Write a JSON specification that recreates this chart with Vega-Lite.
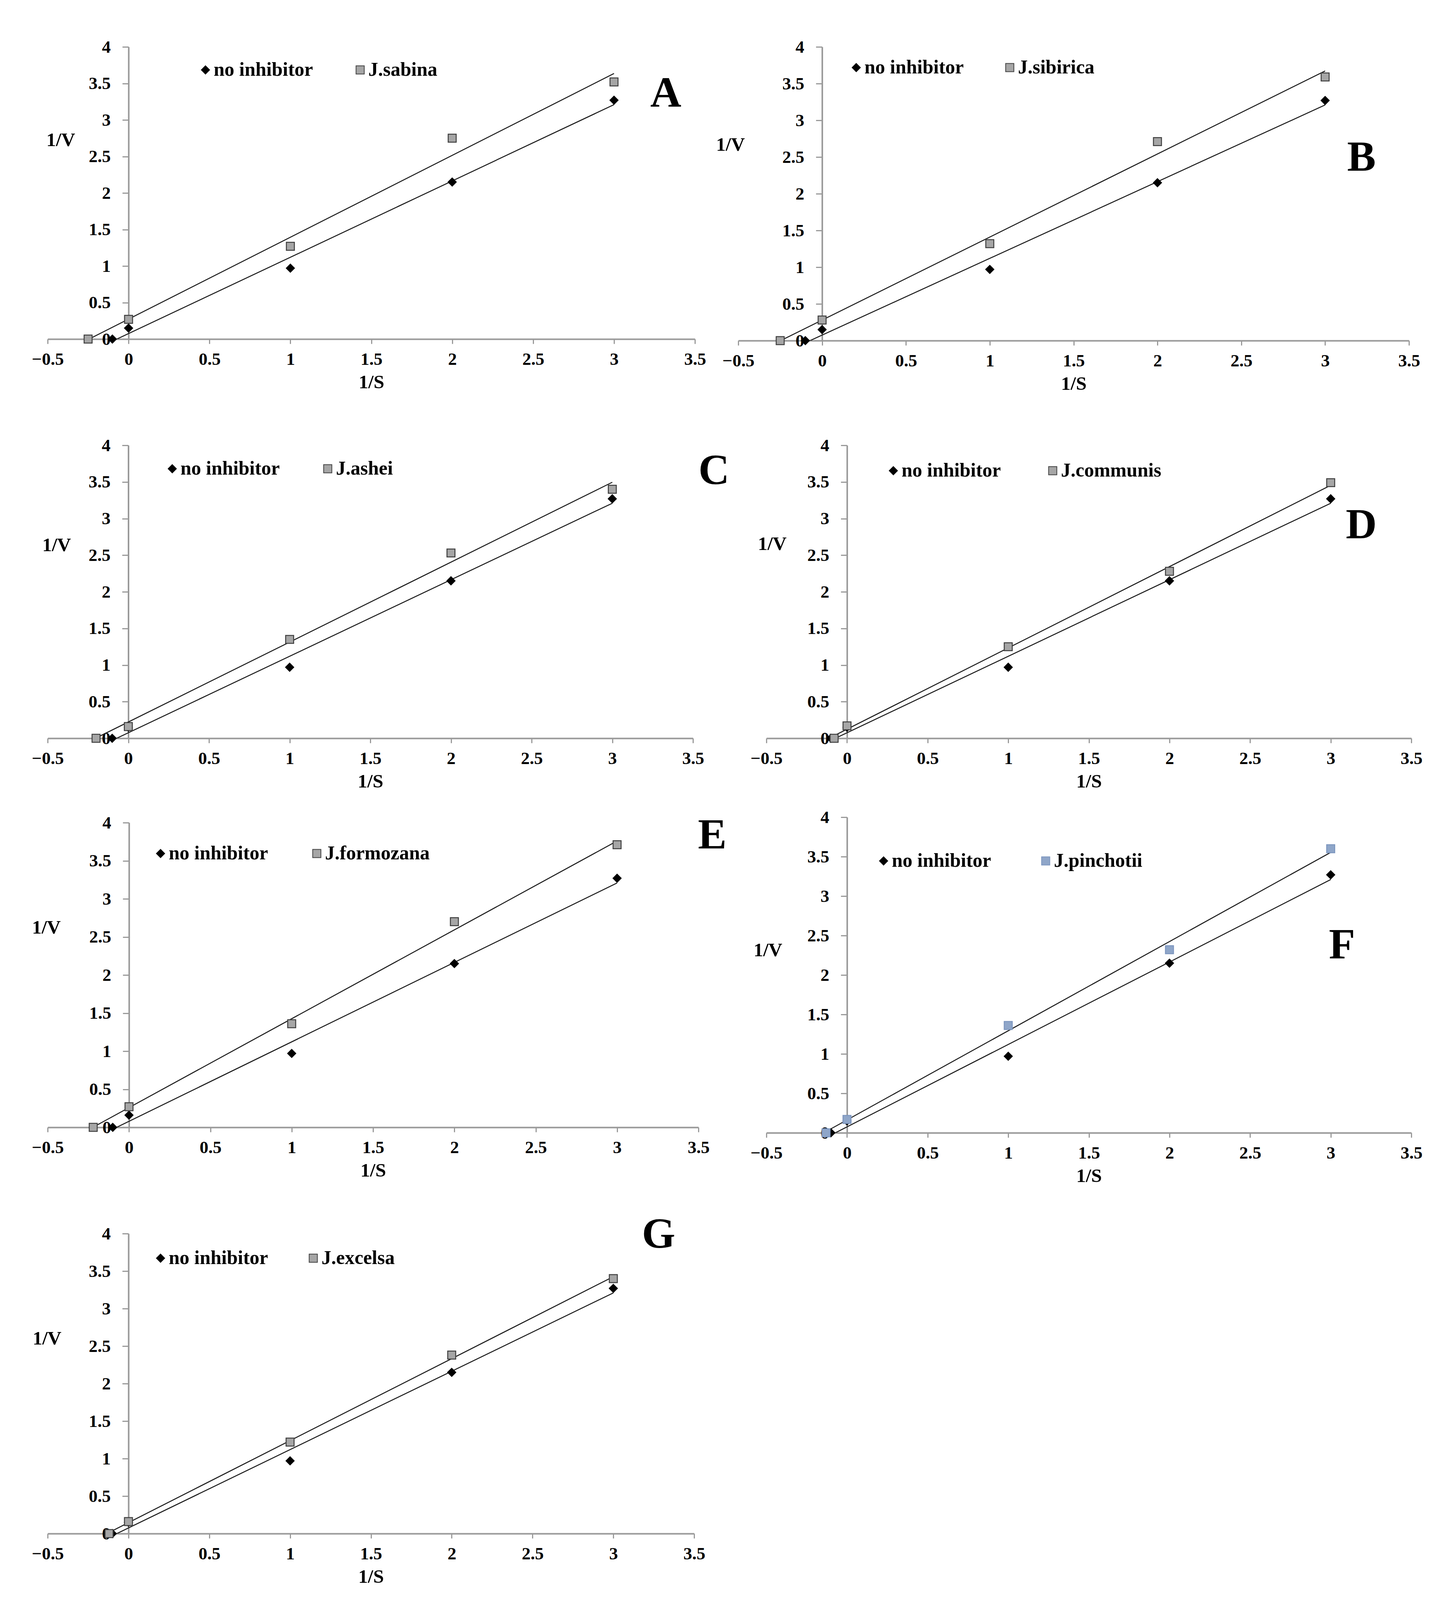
{
  "$schema": "https://vega.github.io/schema/vega-lite/v6.json",
  "background": "white",
  "autosize": {"type": "pad", "resize": true},
  "padding": {"left": 81, "top": 98, "right": 10, "bottom": 10},
  "config": {
    "font": "Liberation Serif",
    "view": {"stroke": null},
    "axis": {"grid": false, "domainColor": "#9a9a9a", "domainWidth": 4, "tickColor": "#9a9a9a", "tickWidth": 3, "labelFont": "Liberation Serif", "labelFontSize": 45, "labelFontWeight": "bold", "labelColor": "#000000", "titleFont": "Liberation Serif", "titleFontSize": 49, "titleFontWeight": "bold", "titleColor": "#000000", "labelFlush": false, "labelOverlap": false},
    "axisX": {"tickSize": 12, "labelPadding": 17, "titleY": 110, "titleBaseline": "middle"},
    "axisY": {"tickSize": 16, "labelPadding": 30, "titleAngle": 0, "titleAlign": "center", "titleBaseline": "middle"},
    "legend": {"labelFont": "Liberation Serif", "labelFontSize": 50, "labelFontWeight": "bold", "labelColor": "#000000", "labelLimit": 0, "labelOffset": -4, "padding": 0, "symbolSize": 440, "symbolOpacity": 1, "symbolStrokeWidth": 2, "orient": "none", "direction": "horizontal"}
  },
  "datasets": {
    "kin": [
      {"panel": "A", "series": "no inhibitor", "x": -0.1, "y": 0},
      {"panel": "A", "series": "no inhibitor", "x": 0, "y": 0.15},
      {"panel": "A", "series": "no inhibitor", "x": 1, "y": 0.97},
      {"panel": "A", "series": "no inhibitor", "x": 2, "y": 2.15},
      {"panel": "A", "series": "no inhibitor", "x": 3, "y": 3.27},
      {"panel": "A", "series": "J.sabina", "x": -0.25, "y": 0},
      {"panel": "A", "series": "J.sabina", "x": 0, "y": 0.27},
      {"panel": "A", "series": "J.sabina", "x": 1, "y": 1.27},
      {"panel": "A", "series": "J.sabina", "x": 2, "y": 2.75},
      {"panel": "A", "series": "J.sabina", "x": 3, "y": 3.52},
      {"panel": "B", "series": "no inhibitor", "x": -0.1, "y": 0},
      {"panel": "B", "series": "no inhibitor", "x": 0, "y": 0.15},
      {"panel": "B", "series": "no inhibitor", "x": 1, "y": 0.97},
      {"panel": "B", "series": "no inhibitor", "x": 2, "y": 2.15},
      {"panel": "B", "series": "no inhibitor", "x": 3, "y": 3.27},
      {"panel": "B", "series": "J.sibirica", "x": -0.25, "y": 0},
      {"panel": "B", "series": "J.sibirica", "x": 0, "y": 0.28},
      {"panel": "B", "series": "J.sibirica", "x": 1, "y": 1.32},
      {"panel": "B", "series": "J.sibirica", "x": 2, "y": 2.71},
      {"panel": "B", "series": "J.sibirica", "x": 3, "y": 3.59},
      {"panel": "C", "series": "no inhibitor", "x": -0.1, "y": 0},
      {"panel": "C", "series": "no inhibitor", "x": 0, "y": 0.15},
      {"panel": "C", "series": "no inhibitor", "x": 1, "y": 0.97},
      {"panel": "C", "series": "no inhibitor", "x": 2, "y": 2.15},
      {"panel": "C", "series": "no inhibitor", "x": 3, "y": 3.27},
      {"panel": "C", "series": "J.ashei", "x": -0.2, "y": 0},
      {"panel": "C", "series": "J.ashei", "x": 0, "y": 0.16},
      {"panel": "C", "series": "J.ashei", "x": 1, "y": 1.35},
      {"panel": "C", "series": "J.ashei", "x": 2, "y": 2.53},
      {"panel": "C", "series": "J.ashei", "x": 3, "y": 3.4},
      {"panel": "D", "series": "no inhibitor", "x": -0.1, "y": 0},
      {"panel": "D", "series": "no inhibitor", "x": 0, "y": 0.15},
      {"panel": "D", "series": "no inhibitor", "x": 1, "y": 0.97},
      {"panel": "D", "series": "no inhibitor", "x": 2, "y": 2.15},
      {"panel": "D", "series": "no inhibitor", "x": 3, "y": 3.27},
      {"panel": "D", "series": "J.communis", "x": -0.08, "y": 0},
      {"panel": "D", "series": "J.communis", "x": 0, "y": 0.17},
      {"panel": "D", "series": "J.communis", "x": 1, "y": 1.25},
      {"panel": "D", "series": "J.communis", "x": 2, "y": 2.28},
      {"panel": "D", "series": "J.communis", "x": 3, "y": 3.49},
      {"panel": "E", "series": "no inhibitor", "x": -0.1, "y": 0},
      {"panel": "E", "series": "no inhibitor", "x": 0, "y": 0.16},
      {"panel": "E", "series": "no inhibitor", "x": 1, "y": 0.97},
      {"panel": "E", "series": "no inhibitor", "x": 2, "y": 2.15},
      {"panel": "E", "series": "no inhibitor", "x": 3, "y": 3.27},
      {"panel": "E", "series": "J.formozana", "x": -0.22, "y": 0},
      {"panel": "E", "series": "J.formozana", "x": 0, "y": 0.27},
      {"panel": "E", "series": "J.formozana", "x": 1, "y": 1.36},
      {"panel": "E", "series": "J.formozana", "x": 2, "y": 2.7},
      {"panel": "E", "series": "J.formozana", "x": 3, "y": 3.71},
      {"panel": "F", "series": "no inhibitor", "x": -0.1, "y": 0},
      {"panel": "F", "series": "no inhibitor", "x": 0, "y": 0.15},
      {"panel": "F", "series": "no inhibitor", "x": 1, "y": 0.97},
      {"panel": "F", "series": "no inhibitor", "x": 2, "y": 2.15},
      {"panel": "F", "series": "no inhibitor", "x": 3, "y": 3.27},
      {"panel": "F", "series": "J.pinchotii", "x": -0.13, "y": 0},
      {"panel": "F", "series": "J.pinchotii", "x": 0, "y": 0.17},
      {"panel": "F", "series": "J.pinchotii", "x": 1, "y": 1.36},
      {"panel": "F", "series": "J.pinchotii", "x": 2, "y": 2.32},
      {"panel": "F", "series": "J.pinchotii", "x": 3, "y": 3.6},
      {"panel": "G", "series": "no inhibitor", "x": -0.1, "y": 0},
      {"panel": "G", "series": "no inhibitor", "x": 0, "y": 0.15},
      {"panel": "G", "series": "no inhibitor", "x": 1, "y": 0.97},
      {"panel": "G", "series": "no inhibitor", "x": 2, "y": 2.15},
      {"panel": "G", "series": "no inhibitor", "x": 3, "y": 3.27},
      {"panel": "G", "series": "J.excelsa", "x": -0.12, "y": 0},
      {"panel": "G", "series": "J.excelsa", "x": 0, "y": 0.16},
      {"panel": "G", "series": "J.excelsa", "x": 1, "y": 1.22},
      {"panel": "G", "series": "J.excelsa", "x": 2, "y": 2.38},
      {"panel": "G", "series": "J.excelsa", "x": 3, "y": 3.4}
    ]
  },
  "resolve": {"scale": {"color": "independent", "shape": "independent", "stroke": "independent"}, "legend": {"color": "independent", "shape": "independent"}},
  "spacing": 71,
  "vconcat": [
    {
      "resolve": {"scale": {"color": "independent", "shape": "independent", "stroke": "independent"}, "legend": {"color": "independent", "shape": "independent"}},
      "spacing": 45,
      "vconcat": [
        {
          "resolve": {"scale": {"color": "independent", "shape": "independent", "stroke": "independent"}, "legend": {"color": "independent", "shape": "independent"}},
          "spacing": 111,
          "vconcat": [
            {
              "bounds": "flush",
              "spacing": 111,
              "resolve": {"scale": {"color": "independent", "shape": "independent", "stroke": "independent"}, "legend": {"color": "independent", "shape": "independent"}},
              "hconcat": [
                {
                  "width": 1657, "height": 748,
                  "layer": [
                    {"data": {"name": "kin"}, "transform": [{"filter": "datum.panel === 'A'"}, {"regression": "y", "on": "x", "groupby": ["series"]}],
                     "mark": {"type": "line", "color": "#1a1a1a", "strokeWidth": 2.5, "clip": true},
                     "encoding": {
                       "x": {"field": "x", "type": "quantitative", "scale": {"domain": [-0.5, 3.5], "nice": false, "zero": false}, "axis": {"values": [-0.5, 0, 0.5, 1, 1.5, 2, 2.5, 3, 3.5], "format": "~g", "title": "1/S"}},
                       "y": {"field": "y", "type": "quantitative", "scale": {"domain": [0, 4], "nice": false, "zero": false}, "axis": {"values": [0, 0.5, 1, 1.5, 2, 2.5, 3, 3.5, 4], "format": "~g", "title": "1/V", "offset": -207.1, "titleX": -174, "titleY": 238}},
                       "detail": {"field": "series"}}},
                    {"data": {"name": "kin"}, "transform": [{"filter": "datum.panel === 'A'"}],
                     "mark": {"type": "point", "filled": true, "size": 420, "strokeWidth": 2.5, "opacity": 1},
                     "encoding": {
                       "x": {"field": "x", "type": "quantitative"},
                       "y": {"field": "y", "type": "quantitative"},
                       "shape": {"field": "series", "type": "nominal", "scale": {"domain": ["no inhibitor", "J.sabina"], "range": ["diamond", "square"]}},
                       "color": {"field": "series", "type": "nominal", "scale": {"domain": ["no inhibitor", "J.sabina"], "range": ["#000000", "#a6a6a6"]}, "legend": {"title": null, "legendX": 379, "legendY": 34, "columnPadding": 95, "symbolStrokeColor": "#404040"}},
                       "stroke": {"field": "series", "type": "nominal", "scale": {"domain": ["no inhibitor", "J.sabina"], "range": ["#000000", "#404040"]}, "legend": null}}},
                    {"data": {"values": [{}]},
                     "mark": {"type": "text", "text": "A", "fontSize": 110, "fontWeight": "bold", "font": "Liberation Serif", "align": "center", "baseline": "alphabetic", "color": "#000000"},
                     "encoding": {"x": {"datum": 3.32}, "y": {"datum": 3.18}}}
                  ]
                },
                {
                  "width": 1717, "height": 752,
                  "layer": [
                    {"data": {"name": "kin"}, "transform": [{"filter": "datum.panel === 'B'"}, {"regression": "y", "on": "x", "groupby": ["series"]}],
                     "mark": {"type": "line", "color": "#1a1a1a", "strokeWidth": 2.5, "clip": true},
                     "encoding": {
                       "x": {"field": "x", "type": "quantitative", "scale": {"domain": [-0.5, 3.5], "nice": false, "zero": false}, "axis": {"values": [-0.5, 0, 0.5, 1, 1.5, 2, 2.5, 3, 3.5], "format": "~g", "title": "1/S"}},
                       "y": {"field": "y", "type": "quantitative", "scale": {"domain": [0, 4], "nice": false, "zero": false}, "axis": {"values": [0, 0.5, 1, 1.5, 2, 2.5, 3, 3.5, 4], "format": "~g", "title": "1/V", "offset": -214.6, "titleX": -235, "titleY": 250}},
                       "detail": {"field": "series"}}},
                    {"data": {"name": "kin"}, "transform": [{"filter": "datum.panel === 'B'"}],
                     "mark": {"type": "point", "filled": true, "size": 420, "strokeWidth": 2.5, "opacity": 1},
                     "encoding": {
                       "x": {"field": "x", "type": "quantitative"},
                       "y": {"field": "y", "type": "quantitative"},
                       "shape": {"field": "series", "type": "nominal", "scale": {"domain": ["no inhibitor", "J.sibirica"], "range": ["diamond", "square"]}},
                       "color": {"field": "series", "type": "nominal", "scale": {"domain": ["no inhibitor", "J.sibirica"], "range": ["#000000", "#a6a6a6"]}, "legend": {"title": null, "legendX": 277, "legendY": 28, "columnPadding": 92, "symbolStrokeColor": "#404040"}},
                       "stroke": {"field": "series", "type": "nominal", "scale": {"domain": ["no inhibitor", "J.sibirica"], "range": ["#000000", "#404040"]}, "legend": null}}},
                    {"data": {"values": [{}]},
                     "mark": {"type": "text", "text": "B", "fontSize": 110, "fontWeight": "bold", "font": "Liberation Serif", "align": "center", "baseline": "alphabetic", "color": "#000000"},
                     "encoding": {"x": {"datum": 3.217}, "y": {"datum": 2.315}}}
                  ]
                }
              ]
            },
            {
              "bounds": "flush",
              "spacing": 188,
              "resolve": {"scale": {"color": "independent", "shape": "independent", "stroke": "independent"}, "legend": {"color": "independent", "shape": "independent"}},
              "hconcat": [
                {
                  "width": 1652, "height": 750,
                  "layer": [
                    {"data": {"name": "kin"}, "transform": [{"filter": "datum.panel === 'C'"}, {"regression": "y", "on": "x", "groupby": ["series"]}],
                     "mark": {"type": "line", "color": "#1a1a1a", "strokeWidth": 2.5, "clip": true},
                     "encoding": {
                       "x": {"field": "x", "type": "quantitative", "scale": {"domain": [-0.5, 3.5], "nice": false, "zero": false}, "axis": {"values": [-0.5, 0, 0.5, 1, 1.5, 2, 2.5, 3, 3.5], "format": "~g", "title": "1/S"}},
                       "y": {"field": "y", "type": "quantitative", "scale": {"domain": [0, 4], "nice": false, "zero": false}, "axis": {"values": [0, 0.5, 1, 1.5, 2, 2.5, 3, 3.5, 4], "format": "~g", "title": "1/V", "offset": -206.5, "titleX": -184, "titleY": 255}},
                       "detail": {"field": "series"}}},
                    {"data": {"name": "kin"}, "transform": [{"filter": "datum.panel === 'C'"}],
                     "mark": {"type": "point", "filled": true, "size": 420, "strokeWidth": 2.5, "opacity": 1},
                     "encoding": {
                       "x": {"field": "x", "type": "quantitative"},
                       "y": {"field": "y", "type": "quantitative"},
                       "shape": {"field": "series", "type": "nominal", "scale": {"domain": ["no inhibitor", "J.ashei"], "range": ["diamond", "square"]}},
                       "color": {"field": "series", "type": "nominal", "scale": {"domain": ["no inhibitor", "J.ashei"], "range": ["#000000", "#a6a6a6"]}, "legend": {"title": null, "legendX": 294, "legendY": 35, "columnPadding": 97, "symbolStrokeColor": "#404040"}},
                       "stroke": {"field": "series", "type": "nominal", "scale": {"domain": ["no inhibitor", "J.ashei"], "range": ["#000000", "#404040"]}, "legend": null}}},
                    {"data": {"values": [{}]},
                     "mark": {"type": "text", "text": "C", "fontSize": 110, "fontWeight": "bold", "font": "Liberation Serif", "align": "center", "baseline": "alphabetic", "color": "#000000"},
                     "encoding": {"x": {"datum": 3.63}, "y": {"datum": 3.47}}}
                  ]
                },
                {
                  "width": 1651, "height": 750,
                  "layer": [
                    {"data": {"name": "kin"}, "transform": [{"filter": "datum.panel === 'D'"}, {"regression": "y", "on": "x", "groupby": ["series"]}],
                     "mark": {"type": "line", "color": "#1a1a1a", "strokeWidth": 2.5, "clip": true},
                     "encoding": {
                       "x": {"field": "x", "type": "quantitative", "scale": {"domain": [-0.5, 3.5], "nice": false, "zero": false}, "axis": {"values": [-0.5, 0, 0.5, 1, 1.5, 2, 2.5, 3, 3.5], "format": "~g", "title": "1/S"}},
                       "y": {"field": "y", "type": "quantitative", "scale": {"domain": [0, 4], "nice": false, "zero": false}, "axis": {"values": [0, 0.5, 1, 1.5, 2, 2.5, 3, 3.5, 4], "format": "~g", "title": "1/V", "offset": -206.4, "titleX": -192, "titleY": 252}},
                       "detail": {"field": "series"}}},
                    {"data": {"name": "kin"}, "transform": [{"filter": "datum.panel === 'D'"}],
                     "mark": {"type": "point", "filled": true, "size": 420, "strokeWidth": 2.5, "opacity": 1},
                     "encoding": {
                       "x": {"field": "x", "type": "quantitative"},
                       "y": {"field": "y", "type": "quantitative"},
                       "shape": {"field": "series", "type": "nominal", "scale": {"domain": ["no inhibitor", "J.communis"], "range": ["diamond", "square"]}},
                       "color": {"field": "series", "type": "nominal", "scale": {"domain": ["no inhibitor", "J.communis"], "range": ["#000000", "#a6a6a6"]}, "legend": {"title": null, "legendX": 300, "legendY": 40, "columnPadding": 107, "symbolStrokeColor": "#404040"}},
                       "stroke": {"field": "series", "type": "nominal", "scale": {"domain": ["no inhibitor", "J.communis"], "range": ["#000000", "#404040"]}, "legend": null}}},
                    {"data": {"values": [{}]},
                     "mark": {"type": "text", "text": "D", "fontSize": 110, "fontWeight": "bold", "font": "Liberation Serif", "align": "center", "baseline": "alphabetic", "color": "#000000"},
                     "encoding": {"x": {"datum": 3.19}, "y": {"datum": 2.73}}}
                  ]
                }
              ]
            }
          ]
        },
        {
          "bounds": "flush",
          "center": true,
          "spacing": 174,
          "resolve": {"scale": {"color": "independent", "shape": "independent", "stroke": "independent"}, "legend": {"color": "independent", "shape": "independent"}},
          "hconcat": [
            {
              "width": 1666, "height": 780,
              "layer": [
                {"data": {"name": "kin"}, "transform": [{"filter": "datum.panel === 'E'"}, {"regression": "y", "on": "x", "groupby": ["series"]}],
                 "mark": {"type": "line", "color": "#1a1a1a", "strokeWidth": 2.5, "clip": true},
                 "encoding": {
                   "x": {"field": "x", "type": "quantitative", "scale": {"domain": [-0.5, 3.5], "nice": false, "zero": false}, "axis": {"values": [-0.5, 0, 0.5, 1, 1.5, 2, 2.5, 3, 3.5], "format": "~g", "title": "1/S"}},
                   "y": {"field": "y", "type": "quantitative", "scale": {"domain": [0, 4], "nice": false, "zero": false}, "axis": {"values": [0, 0.5, 1, 1.5, 2, 2.5, 3, 3.5, 4], "format": "~g", "title": "1/V", "offset": -208.25, "titleX": -212, "titleY": 268}},
                   "detail": {"field": "series"}}},
                {"data": {"name": "kin"}, "transform": [{"filter": "datum.panel === 'E'"}],
                 "mark": {"type": "point", "filled": true, "size": 420, "strokeWidth": 2.5, "opacity": 1},
                 "encoding": {
                   "x": {"field": "x", "type": "quantitative"},
                   "y": {"field": "y", "type": "quantitative"},
                   "shape": {"field": "series", "type": "nominal", "scale": {"domain": ["no inhibitor", "J.formozana"], "range": ["diamond", "square"]}},
                   "color": {"field": "series", "type": "nominal", "scale": {"domain": ["no inhibitor", "J.formozana"], "range": ["#000000", "#a6a6a6"]}, "legend": {"title": null, "legendX": 264, "legendY": 54, "columnPadding": 99, "symbolStrokeColor": "#404040"}},
                   "stroke": {"field": "series", "type": "nominal", "scale": {"domain": ["no inhibitor", "J.formozana"], "range": ["#000000", "#404040"]}, "legend": null}}},
                {"data": {"values": [{}]},
                 "mark": {"type": "text", "text": "E", "fontSize": 110, "fontWeight": "bold", "font": "Liberation Serif", "align": "center", "baseline": "alphabetic", "color": "#000000"},
                 "encoding": {"x": {"datum": 3.585}, "y": {"datum": 3.66}}}
              ]
            },
            {
              "width": 1651, "height": 808,
              "layer": [
                {"data": {"name": "kin"}, "transform": [{"filter": "datum.panel === 'F'"}, {"regression": "y", "on": "x", "groupby": ["series"]}],
                 "mark": {"type": "line", "color": "#1a1a1a", "strokeWidth": 2.5, "clip": true},
                 "encoding": {
                   "x": {"field": "x", "type": "quantitative", "scale": {"domain": [-0.5, 3.5], "nice": false, "zero": false}, "axis": {"values": [-0.5, 0, 0.5, 1, 1.5, 2, 2.5, 3, 3.5], "format": "~g", "title": "1/S"}},
                   "y": {"field": "y", "type": "quantitative", "scale": {"domain": [0, 4], "nice": false, "zero": false}, "axis": {"values": [0, 0.5, 1, 1.5, 2, 2.5, 3, 3.5, 4], "format": "~g", "title": "1/V", "offset": -206.4, "titleX": -203, "titleY": 340}},
                   "detail": {"field": "series"}}},
                {"data": {"name": "kin"}, "transform": [{"filter": "datum.panel === 'F'"}],
                 "mark": {"type": "point", "filled": true, "size": 420, "strokeWidth": 2.5, "opacity": 1},
                 "encoding": {
                   "x": {"field": "x", "type": "quantitative"},
                   "y": {"field": "y", "type": "quantitative"},
                   "shape": {"field": "series", "type": "nominal", "scale": {"domain": ["no inhibitor", "J.pinchotii"], "range": ["diamond", "square"]}},
                   "color": {"field": "series", "type": "nominal", "scale": {"domain": ["no inhibitor", "J.pinchotii"], "range": ["#000000", "#8fa6c9"]}, "legend": {"title": null, "legendX": 275, "legendY": 87, "columnPadding": 114, "symbolStrokeColor": "#7d96bf"}},
                   "stroke": {"field": "series", "type": "nominal", "scale": {"domain": ["no inhibitor", "J.pinchotii"], "range": ["#000000", "#7d96bf"]}, "legend": null}}},
                {"data": {"values": [{}]},
                 "mark": {"type": "text", "text": "F", "fontSize": 110, "fontWeight": "bold", "font": "Liberation Serif", "align": "center", "baseline": "alphabetic", "color": "#000000"},
                 "encoding": {"x": {"datum": 3.07}, "y": {"datum": 2.21}}}
              ]
            }
          ]
        }
      ]
    },
    {
      "width": 1655, "height": 768,
      "layer": [
        {"data": {"name": "kin"}, "transform": [{"filter": "datum.panel === 'G'"}, {"regression": "y", "on": "x", "groupby": ["series"]}],
         "mark": {"type": "line", "color": "#1a1a1a", "strokeWidth": 2.5, "clip": true},
         "encoding": {
           "x": {"field": "x", "type": "quantitative", "scale": {"domain": [-0.5, 3.5], "nice": false, "zero": false}, "axis": {"values": [-0.5, 0, 0.5, 1, 1.5, 2, 2.5, 3, 3.5], "format": "~g", "title": "1/S"}},
           "y": {"field": "y", "type": "quantitative", "scale": {"domain": [0, 4], "nice": false, "zero": false}, "axis": {"values": [0, 0.5, 1, 1.5, 2, 2.5, 3, 3.5, 4], "format": "~g", "title": "1/V", "offset": -206.9, "titleX": -209, "titleY": 268}},
           "detail": {"field": "series"}}},
        {"data": {"name": "kin"}, "transform": [{"filter": "datum.panel === 'G'"}],
         "mark": {"type": "point", "filled": true, "size": 420, "strokeWidth": 2.5, "opacity": 1},
         "encoding": {
           "x": {"field": "x", "type": "quantitative"},
           "y": {"field": "y", "type": "quantitative"},
           "shape": {"field": "series", "type": "nominal", "scale": {"domain": ["no inhibitor", "J.excelsa"], "range": ["diamond", "square"]}},
           "color": {"field": "series", "type": "nominal", "scale": {"domain": ["no inhibitor", "J.excelsa"], "range": ["#000000", "#a6a6a6"]}, "legend": {"title": null, "legendX": 264, "legendY": 38, "columnPadding": 90, "symbolStrokeColor": "#404040"}},
           "stroke": {"field": "series", "type": "nominal", "scale": {"domain": ["no inhibitor", "J.excelsa"], "range": ["#000000", "#404040"]}, "legend": null}}},
        {"data": {"values": [{}]},
         "mark": {"type": "text", "text": "G", "fontSize": 110, "fontWeight": "bold", "font": "Liberation Serif", "align": "center", "baseline": "alphabetic", "color": "#000000"},
         "encoding": {"x": {"datum": 3.28}, "y": {"datum": 3.81}}}
      ]
    }
  ]
}
